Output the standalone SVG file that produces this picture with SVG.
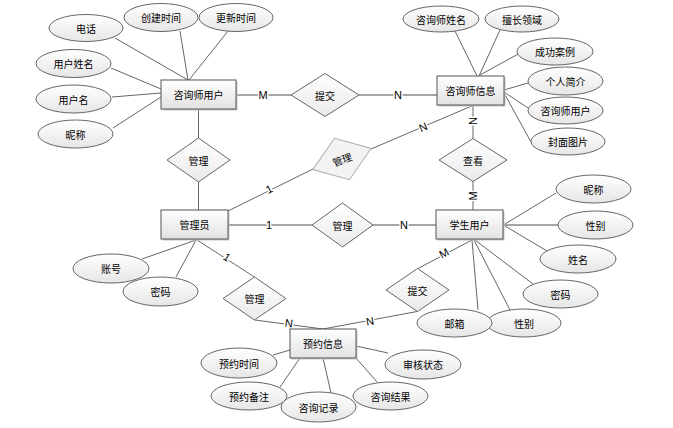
<svg xmlns="http://www.w3.org/2000/svg" width="673" height="428" viewBox="0 0 673 428">
<defs>
<linearGradient id="gR" x1="0" y1="0" x2="0" y2="1"><stop offset="0" stop-color="#ffffff"/><stop offset="1" stop-color="#e2e2e2"/></linearGradient>
<linearGradient id="gE" x1="0" y1="0" x2="0" y2="1"><stop offset="0" stop-color="#ffffff"/><stop offset="1" stop-color="#e6e6e6"/></linearGradient>
<linearGradient id="gD" x1="0" y1="0" x2="0" y2="1"><stop offset="0" stop-color="#ffffff"/><stop offset="1" stop-color="#eaeaea"/></linearGradient>
</defs>
<style>
text{font-family:"Noto Sans CJK SC","Noto Sans",sans-serif;font-size:10px;fill:#000;text-anchor:middle;dominant-baseline:central}
.ent rect.b{fill:url(#gR);stroke:#555;stroke-width:1}
.ent rect.s{fill:#c8c8c8;stroke:none}
.att ellipse{fill:url(#gE);stroke:#666;stroke-width:1}
.rel polygon{fill:url(#gD);stroke:#666;stroke-width:1}
.rel.light polygon{stroke:#b0b0b0;fill:#f3f3f3}
#connectors line{stroke:#666;stroke-width:1}
#connectors line.r{stroke:#888;stroke-width:1.3}
.lab{font-family:"Liberation Sans",Arial,sans-serif;font-size:11px;stroke:#fff;stroke-width:3;paint-order:stroke;stroke-linejoin:round}
</style>
<rect x="0" y="0" width="673" height="428" fill="#fff"/>
<g id="connectors">
<line x1="180" y1="31" x2="188" y2="80"/>
<line x1="115" y1="38" x2="188" y2="80"/>
<line x1="228" y1="31" x2="189" y2="80"/>
<line x1="111" y1="68" x2="161" y2="89"/>
<line x1="112" y1="97" x2="161" y2="93"/>
<line x1="113" y1="128" x2="161" y2="97"/>
<line class="r" x1="236" y1="95" x2="291" y2="95"/>
<line class="r" x1="359" y1="95" x2="437" y2="95"/>
<line x1="198.5" y1="109" x2="198.5" y2="138"/>
<line x1="198.5" y1="182" x2="198.5" y2="210"/>
<line x1="228" y1="211" x2="313" y2="169"/>
<line x1="371" y1="149" x2="474" y2="105"/>
<line x1="473" y1="105" x2="473" y2="139"/>
<line x1="473" y1="181" x2="473" y2="210"/>
<line class="r" x1="228" y1="225" x2="312" y2="225"/>
<line class="r" x1="373" y1="225" x2="436" y2="225"/>
<line x1="472" y1="240" x2="418" y2="268.5"/>
<line x1="417" y1="311.5" x2="323" y2="329"/>
<line x1="197" y1="240" x2="254.5" y2="277"/>
<line x1="255" y1="320" x2="323" y2="329"/>
<line x1="142" y1="259" x2="196" y2="240"/>
<line x1="176" y1="277" x2="196" y2="240"/>
<line x1="556" y1="193" x2="505" y2="224"/>
<line class="r" x1="558" y1="225" x2="503" y2="225"/>
<line x1="547" y1="251" x2="505" y2="226"/>
<line x1="533" y1="284" x2="475" y2="240"/>
<line x1="478" y1="310" x2="472" y2="240"/>
<line x1="510" y1="310" x2="474" y2="240"/>
<line x1="455" y1="31" x2="477" y2="76"/>
<line x1="500" y1="30" x2="479" y2="76"/>
<line x1="520" y1="53" x2="480" y2="75"/>
<line x1="528" y1="83" x2="504" y2="90"/>
<line x1="528" y1="108" x2="504" y2="92"/>
<line x1="531" y1="142" x2="504" y2="93"/>
<line x1="273" y1="355" x2="290" y2="350"/>
<line x1="280" y1="387" x2="300" y2="358"/>
<line x1="331" y1="393" x2="323" y2="358"/>
<line x1="377" y1="382" x2="356" y2="358"/>
<line x1="388" y1="353" x2="356" y2="346"/>
<text class="lab" x="263" y="95">M</text>
<text class="lab" x="398" y="95">N</text>
<text class="lab" x="269" y="189" transform="rotate(-26 269 189)">1</text>
<text class="lab" x="423" y="127" transform="rotate(-23 423 127)">N</text>
<text class="lab" x="473" y="121" transform="rotate(90 473 121)">N</text>
<text class="lab" x="473" y="196" transform="rotate(-90 473 196)">M</text>
<text class="lab" x="269" y="225">1</text>
<text class="lab" x="404" y="225">N</text>
<text class="lab" x="227" y="257" transform="rotate(33 227 257)">1</text>
<text class="lab" x="289" y="323" transform="rotate(7 289 323)">N</text>
<text class="lab" x="370" y="321" transform="rotate(-10 370 321)">N</text>
<text class="lab" x="444" y="253" transform="rotate(-28 444 253)">M</text>
</g>
<g id="rel_tijiao1" class="rel"><polygon points="291,95 325,73.5 359,95 325,116.5"/><text x="325" y="95">提交</text></g>
<g id="rel_guanli1" class="rel"><polygon points="167,160 198.5,138 230,160 198.5,182"/><text x="198.5" y="160">管理</text></g>
<g id="rel_guanli2" class="rel light"><g transform="rotate(-20 342 159)"><polygon points="311,159 342,137 373,159 342,181"/><text x="342" y="159">管理</text></g></g>
<g id="rel_guanli3" class="rel"><polygon points="312,225 342.5,203 373,225 342.5,247"/><text x="342.5" y="225">管理</text></g>
<g id="rel_chakan" class="rel"><polygon points="439,160 473,138.5 507,160 473,181.5"/><text x="473" y="160">查看</text></g>
<g id="rel_guanli4" class="rel"><polygon points="223,298.5 254.5,277 286,298.5 254.5,320"/><text x="254.5" y="298.5">管理</text></g>
<g id="rel_tijiao2" class="rel"><polygon points="386,290 417.5,268.5 449,290 417.5,311.5"/><text x="417.5" y="290">提交</text></g>
<g id="ent_zxsyh" class="ent"><rect class="s" x="162.5" y="81.5" width="75" height="29"/><rect class="b" x="161" y="80" width="75" height="29"/><text x="198.5" y="94.5">咨询师用户</text></g>
<g id="ent_zxsxx" class="ent"><rect class="s" x="438.5" y="77.5" width="67" height="29"/><rect class="b" x="437" y="76" width="67" height="29"/><text x="470.5" y="90.5">咨询师信息</text></g>
<g id="ent_gly" class="ent"><rect class="s" x="162.5" y="211.5" width="67" height="29"/><rect class="b" x="161" y="210" width="67" height="29"/><text x="194.5" y="224.5">管理员</text></g>
<g id="ent_xsyh" class="ent"><rect class="s" x="437.5" y="211.5" width="67" height="29"/><rect class="b" x="436" y="210" width="67" height="29"/><text x="469.5" y="224.5">学生用户</text></g>
<g id="ent_yyxx" class="ent"><rect class="s" x="291.5" y="330.5" width="66" height="29"/><rect class="b" x="290" y="329" width="66" height="29"/><text x="323" y="343.5">预约信息</text></g>
<g id="att_dianhua" class="att"><ellipse cx="86" cy="28" rx="37" ry="13.5"/><text x="86" y="28">电话</text></g>
<g id="att_cjsj" class="att"><ellipse cx="161" cy="17.5" rx="37" ry="14"/><text x="161" y="17.5">创建时间</text></g>
<g id="att_gxsj" class="att"><ellipse cx="236" cy="17.5" rx="37" ry="14"/><text x="236" y="17.5">更新时间</text></g>
<g id="att_yhxm" class="att"><ellipse cx="73.5" cy="63.5" rx="37.5" ry="14"/><text x="73.5" y="63.5">用户姓名</text></g>
<g id="att_yhm" class="att"><ellipse cx="73.5" cy="99" rx="37.5" ry="14"/><text x="73.5" y="99">用户名</text></g>
<g id="att_nc1" class="att"><ellipse cx="75.5" cy="134" rx="37.5" ry="14"/><text x="75.5" y="134">昵称</text></g>
<g id="att_zxsxm" class="att"><ellipse cx="441" cy="19" rx="38" ry="13"/><text x="441" y="19">咨询师姓名</text></g>
<g id="att_scly" class="att"><ellipse cx="522" cy="19" rx="37" ry="13"/><text x="522" y="19">擅长领域</text></g>
<g id="att_cgal" class="att"><ellipse cx="555" cy="51.5" rx="38" ry="13.5"/><text x="555" y="51.5">成功案例</text></g>
<g id="att_grjj" class="att"><ellipse cx="565.5" cy="81" rx="37.5" ry="14"/><text x="565.5" y="81">个人简介</text></g>
<g id="att_zxsyh" class="att"><ellipse cx="565.5" cy="110.5" rx="37.5" ry="13.5"/><text x="565.5" y="110.5">咨询师用户</text></g>
<g id="att_fmtp" class="att"><ellipse cx="568" cy="141.5" rx="37" ry="13.5"/><text x="568" y="141.5">封面图片</text></g>
<g id="att_nc2" class="att"><ellipse cx="593.5" cy="189" rx="37.5" ry="14"/><text x="593.5" y="189">昵称</text></g>
<g id="att_xb1" class="att"><ellipse cx="595.5" cy="225" rx="37.5" ry="14"/><text x="595.5" y="225">性别</text></g>
<g id="att_xm" class="att"><ellipse cx="578" cy="259" rx="38" ry="14"/><text x="578" y="259">姓名</text></g>
<g id="att_mm1" class="att"><ellipse cx="560.5" cy="294" rx="37.5" ry="14"/><text x="560.5" y="294">密码</text></g>
<g id="att_xb2" class="att"><ellipse cx="524" cy="323" rx="37" ry="14"/><text x="524" y="323">性别</text></g>
<g id="att_yx" class="att"><ellipse cx="454.5" cy="323" rx="37.5" ry="14"/><text x="454.5" y="323">邮箱</text></g>
<g id="att_zh" class="att"><ellipse cx="111" cy="268.5" rx="38" ry="14.5"/><text x="111" y="268.5">账号</text></g>
<g id="att_mm2" class="att"><ellipse cx="160.5" cy="291.5" rx="37.5" ry="14.5"/><text x="160.5" y="291.5">密码</text></g>
<g id="att_yysj" class="att"><ellipse cx="239" cy="363" rx="38" ry="15"/><text x="239" y="363">预约时间</text></g>
<g id="att_yybz" class="att"><ellipse cx="249" cy="396" rx="38" ry="14"/><text x="249" y="396">预约备注</text></g>
<g id="att_zxjl" class="att"><ellipse cx="318.5" cy="407" rx="37.5" ry="15"/><text x="318.5" y="407">咨询记录</text></g>
<g id="att_zxjg" class="att"><ellipse cx="390.5" cy="396" rx="37.5" ry="14"/><text x="390.5" y="396">咨询结果</text></g>
<g id="att_shzt" class="att"><ellipse cx="423" cy="364.5" rx="38" ry="14.5"/><text x="423" y="364.5">审核状态</text></g>
</svg>
